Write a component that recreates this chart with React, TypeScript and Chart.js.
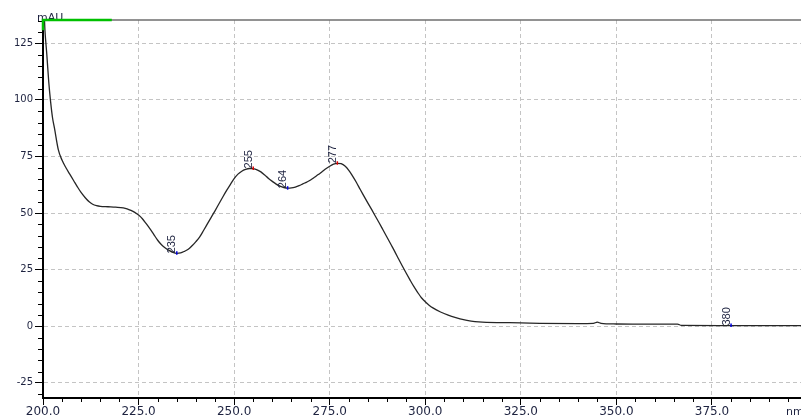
import React, { useEffect, useRef } from "react";
import { Chart, registerables } from "chart.js";

Chart.register(...registerables);

// UV spectrum of the peak (wavelength in nm, absorbance in mAU)
const wavelengthNm = [
  200, 200.5, 201, 201.5, 202, 202.5, 203, 204, 205, 206, 207, 208, 209, 210, 211, 212, 213, 214, 215,
  217, 219, 221, 222, 223, 224, 225, 226, 227, 228, 229, 230, 231, 232, 233, 234, 235, 236, 237, 238, 239,
  240, 241, 242, 243, 244, 245, 246, 247, 248, 249, 250, 251, 252, 253, 254, 255, 256, 257, 258, 259,
  260, 261, 262, 263, 264, 265, 266, 267, 268, 269, 270, 271, 272, 273, 274, 275, 276, 277, 278, 279,
  280, 281, 282, 283, 284, 285, 286, 287, 288, 289, 290, 291, 292, 293, 294, 295, 296, 297, 298, 299,
  300, 301, 302, 304, 306, 308, 310, 312, 314, 316, 320, 325, 330, 340, 344, 345, 346, 350, 360, 366,
  367, 380, 398.3,
];
const absorbanceMau = [
  150, 131, 120, 108, 99, 92, 87.5, 78, 73.3, 70, 67.2, 64.4, 61.6, 59, 56.9, 55.1, 53.9, 53.3, 53,
  52.8, 52.6, 52.3, 51.9, 51.2, 50.3, 49.1, 47.5, 45.3, 43, 40.5, 38, 36, 34.6, 33.5, 32.6, 32.2, 32.4, 33.1, 34, 35.6,
  37.4, 39.5, 42.3, 45.2, 48.1, 51, 54, 57, 59.9, 62.6, 65.2, 67.2, 68.5, 69.3, 69.7, 69.6, 69.1, 68.2, 66.8, 65.3,
  64, 62.8, 61.9, 61.3, 61.0, 61.1, 61.5, 62.1, 62.9, 63.7, 64.6, 65.8, 67, 68.3, 69.6, 70.7, 71.6, 72.0, 71.8, 70.8,
  68.9, 66.3, 63.5, 60.4, 57.4, 54.4, 51.5, 48.5, 45.5, 42.4, 39.3, 36.2, 33.1, 29.8, 26.6, 23.5, 20.5, 17.6, 15, 12.6,
  10.8, 9.3, 8.1, 6.3, 4.9, 3.8, 2.9, 2.3, 1.9, 1.7, 1.6, 1.5, 1.3, 1.2, 1.3, 1.8, 1.3, 1.0, 0.9, 0.9,
  0.4, 0.3, 0.3,
];

// Annotated maxima / minima
const peakNm = [235, 255, 264, 277, 380];
const peakMau = [32.2, 69.7, 61.0, 72.0, 0.3];
const peakIsMax = [false, true, false, true, false];

// Baseline marker at the top-left corner (nm)
const baselineMarkerNm = [200, 218];

const X_MIN = 200;
const X_MAX = 398.3;
const Y_MIN = -31.7;
const Y_MAX = 135.3;

const TEXT_COLOR = "#1e2340";

const decorations = {
  id: "decorations",
  beforeDatasetsDraw(chart: any) {
    const { ctx, chartArea, scales } = chart;
    const x = scales.x;
    const y = scales.y;
    ctx.save();
    // minor ticks every 5 units
    ctx.strokeStyle = "#000";
    ctx.lineWidth = 1;
    ctx.beginPath();
    for (let v = 205; v < X_MAX; v += 5) {
      if (v % 25 === 0) continue;
      const px = Math.round(x.getPixelForValue(v)) + 0.5;
      ctx.moveTo(px, chartArea.bottom);
      ctx.lineTo(px, chartArea.bottom + 4);
    }
    for (let v = -30; v < Y_MAX; v += 5) {
      if (v % 25 === 0) continue;
      const py = Math.round(y.getPixelForValue(v)) + 0.5;
      ctx.moveTo(chartArea.left - 5, py);
      ctx.lineTo(chartArea.left, py);
    }
    ctx.stroke();

    // unit labels
    ctx.fillStyle = TEXT_COLOR;
    ctx.font = '11px "DejaVu Sans"';
    ctx.textAlign = "left";
    ctx.textBaseline = "alphabetic";
    ctx.fillText("mAU", chartArea.left - 6, chartArea.top + 1);
    ctx.fillText("nm", chartArea.right - 15, chartArea.bottom + 17);

    // top frame line
    ctx.strokeStyle = "#6e6e6e";
    ctx.lineWidth = 1.5;
    ctx.beginPath();
    ctx.moveTo(chartArea.left, chartArea.top);
    ctx.lineTo(chartArea.right, chartArea.top);
    ctx.stroke();
    ctx.restore();
  },
  afterDatasetsDraw(chart: any) {
    const { ctx, scales } = chart;
    const x = scales.x;
    const y = scales.y;
    ctx.save();
    peakNm.forEach((nm, i) => {
      const px = x.getPixelForValue(nm);
      const py = y.getPixelForValue(peakMau[i]);
      ctx.strokeStyle = peakIsMax[i] ? "#e00000" : "#0000e0";
      ctx.lineWidth = 1.5;
      ctx.beginPath();
      ctx.moveTo(px, py - 2);
      ctx.lineTo(px, py + 1.5);
      ctx.stroke();
      ctx.save();
      ctx.translate(px + 1, py);
      ctx.rotate(-Math.PI / 2);
      ctx.fillStyle = TEXT_COLOR;
      ctx.font = '11px "Liberation Sans"';
      ctx.textAlign = "left";
      ctx.textBaseline = "bottom";
      ctx.fillText(String(nm), 0, 0);
      ctx.restore();
    });
    ctx.restore();
  },
};

export default function App() {
  const canvasRef = useRef<HTMLCanvasElement | null>(null);

  useEffect(() => {
    if (!canvasRef.current) return;
    const spectrum = wavelengthNm.map((nm, i) => ({ x: nm, y: absorbanceMau[i] }));
    const marker = [
      { x: baselineMarkerNm[1], y: Y_MAX },
      { x: baselineMarkerNm[0], y: Y_MAX },
      { x: baselineMarkerNm[0], y: Y_MAX - 4.5 },
    ];
    const chart = new Chart(canvasRef.current, {
      type: "line",
      data: {
        datasets: [
          {
            data: marker,
            borderColor: "#00c000",
            borderWidth: 2.5,
            pointRadius: 0,
            tension: 0,
            clip: false as any,
          },
          {
            data: spectrum,
            borderColor: "#262626",
            borderWidth: 1.3,
            pointRadius: 0,
            cubicInterpolationMode: "monotone",
          },
        ],
      },
      options: {
        animation: false,
        responsive: true,
        maintainAspectRatio: false,
        layout: { padding: { top: 20, right: 0, left: 0, bottom: 0 } },
        plugins: { legend: { display: false }, tooltip: { enabled: false } },
        scales: {
          x: {
            type: "linear",
            min: X_MIN,
            max: X_MAX,
            afterFit: (s: any) => {
              s.height = 19;
            },
            ticks: {
              stepSize: 25,
              includeBounds: false,
              autoSkip: false,
              maxRotation: 0,
              padding: 0,
              color: TEXT_COLOR,
              font: { family: "DejaVu Sans", size: 12 },
              callback: (v: any) => Number(v).toFixed(1),
            },
            grid: { color: "#c4c4c4", lineWidth: 1, tickLength: 7, tickColor: "#000", tickWidth: 1 },
            border: { color: "#000", width: 2, dash: [4, 3] },
          },
          y: {
            type: "linear",
            min: Y_MIN,
            max: Y_MAX,
            afterFit: (s: any) => {
              s.width = 43;
            },
            ticks: {
              stepSize: 25,
              includeBounds: false,
              autoSkip: false,
              padding: 2,
              color: TEXT_COLOR,
              font: { family: "DejaVu Sans", size: 10 },
            },
            grid: { color: "#c4c4c4", lineWidth: 1, tickLength: 8, tickColor: "#000", tickWidth: 1 },
            border: { color: "#000", width: 2, dash: [4, 3] },
          },
        },
      },
      plugins: [decorations],
    });
    return () => chart.destroy();
  }, []);

  return (
    <div style={{ position: "absolute", left: 0, top: 0, width: 801, height: 417, background: "#fff" }}>
      <canvas ref={canvasRef} />
    </div>
  );
}
